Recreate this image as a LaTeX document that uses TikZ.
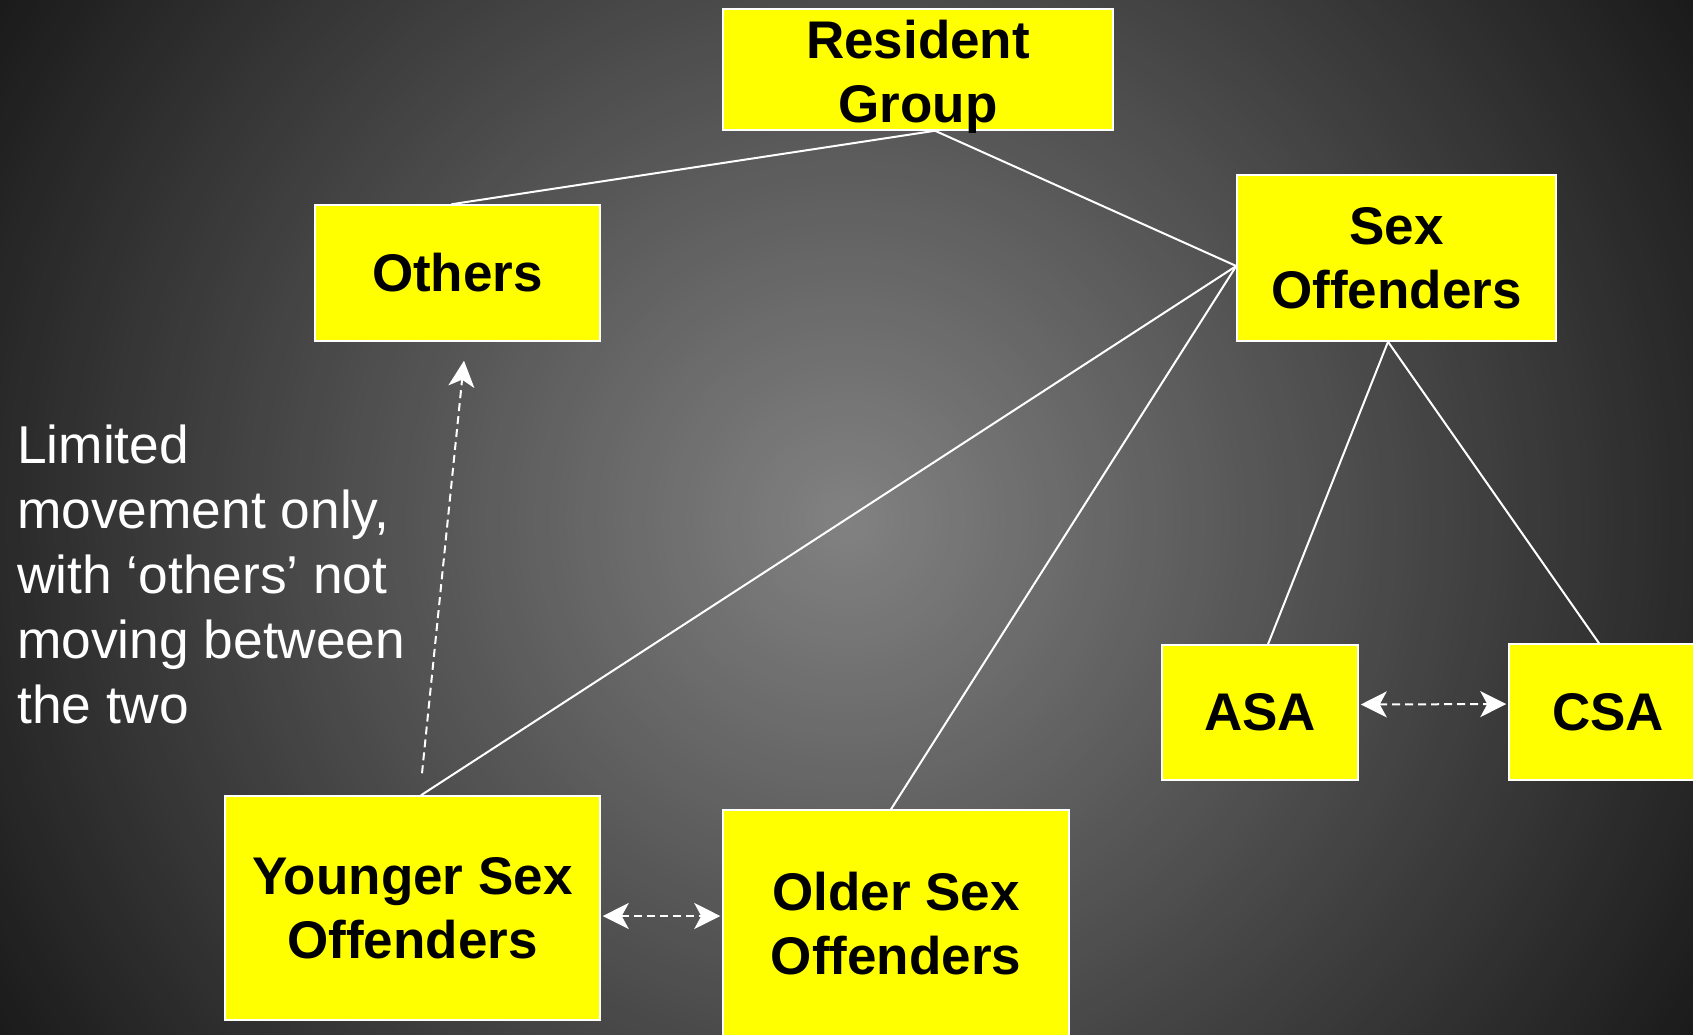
\documentclass[tikz,border=0pt]{standalone}
\usepackage{fontspec}
\setmainfont{Liberation Sans}
\usetikzlibrary{arrows.meta,calc}
\definecolor{boxyellow}{RGB}{255,255,0}
\tikzset{mytip/.tip={Stealth[length=26pt,width=26pt,inset=7pt]}}
\begin{document}
\begin{tikzpicture}[x=1pt,y=-1pt,
  box/.style={draw=white, line width=1.5pt, fill=boxyellow, inner sep=0pt, align=center, font=\bfseries\fontsize{53}{64}\selectfont},
  link/.style={draw=white, line width=2pt},
  dlink/.style={draw=white, line width=2pt, dash pattern=on 8pt off 5pt, -mytip},
  dboth/.style={dlink, mytip-mytip},
  note/.style={text=white, anchor=north west, inner sep=0pt, align=left, font=\fontsize{53.3}{65}\selectfont}]
\useasboundingbox (0,0) rectangle (1693,1034);
\begin{scope}
\clip (0,0) rectangle (1693,1034);
\fill[black!90] (0,0) rectangle (1693,1034);
\foreach \r in {1104,1096,...,8} {
  \pgfmathsetmacro\gv{max(0,(130-0.104*\r))/255}
  \definecolor{ringc}{gray}{\gv}
  \fill[ringc] (846,520) circle (\r);
}
\end{scope}
\node[box, minimum width=390pt, minimum height=121pt] (rg) at (918,69.5) {\rule{0pt}{41pt}Resident\\\raisebox{0pt}[\height][0pt]{Group}};
\node[box, minimum width=285pt, minimum height=136pt] (oth) at (457.5,273) {Others};
\node[box, minimum width=319pt, minimum height=166pt] (so) at (1396.5,258) {Sex\\Offenders};
\node[box, minimum width=196pt, minimum height=135pt] (asa) at (1260,712.5) {ASA};
\node[box, minimum width=198pt, minimum height=136pt] (csa) at (1608,712) {CSA};
\node[box, minimum width=375pt, minimum height=224pt] (ys) at (412.5,908) {Younger Sex\\Offenders};
\node[box, minimum width=346pt, minimum height=228pt] (os) at (896,924) {Older Sex\\Offenders};
\node[note] (txt) at (17,425) {Limited\\movement only,\\with ‘others’ not\\moving between\\the two};
\coordinate (rgb) at ($(rg.south)+(17,0)$);
\coordinate (sow) at ($(so.west)+(0,8)$);
\coordinate (sob) at ($(so.south)+(-8.5,0)$);
\draw[link] (rgb) -- ($(oth.north)+(-6,0)$);
\draw[link] (rgb) -- (sow);
\draw[link] (sow) -- ($(ys.north)+(8.5,0)$);
\draw[link] (sow) -- ($(os.north)+(-5,0)$);
\draw[link] (sob) -- ($(asa.north)+(8,0)$);
\draw[link] (sob) -- ($(csa.north)+(-9,0)$);
\coordinate (dstart) at ($(ys.north)+(9.5,-22)$);
\coordinate (dend) at ($(oth.south)+(6.5,19)$);
\draw[dlink] (dstart) -- (dend);
\draw[dboth] ($(ys.east)+(2,8)$) -- ($(os.west)+(-2,-8)$);
\draw[dboth] ($(asa.east)+(2,-8)$) -- ($(csa.west)+(-2,-8)$);
\end{tikzpicture}
\end{document}
